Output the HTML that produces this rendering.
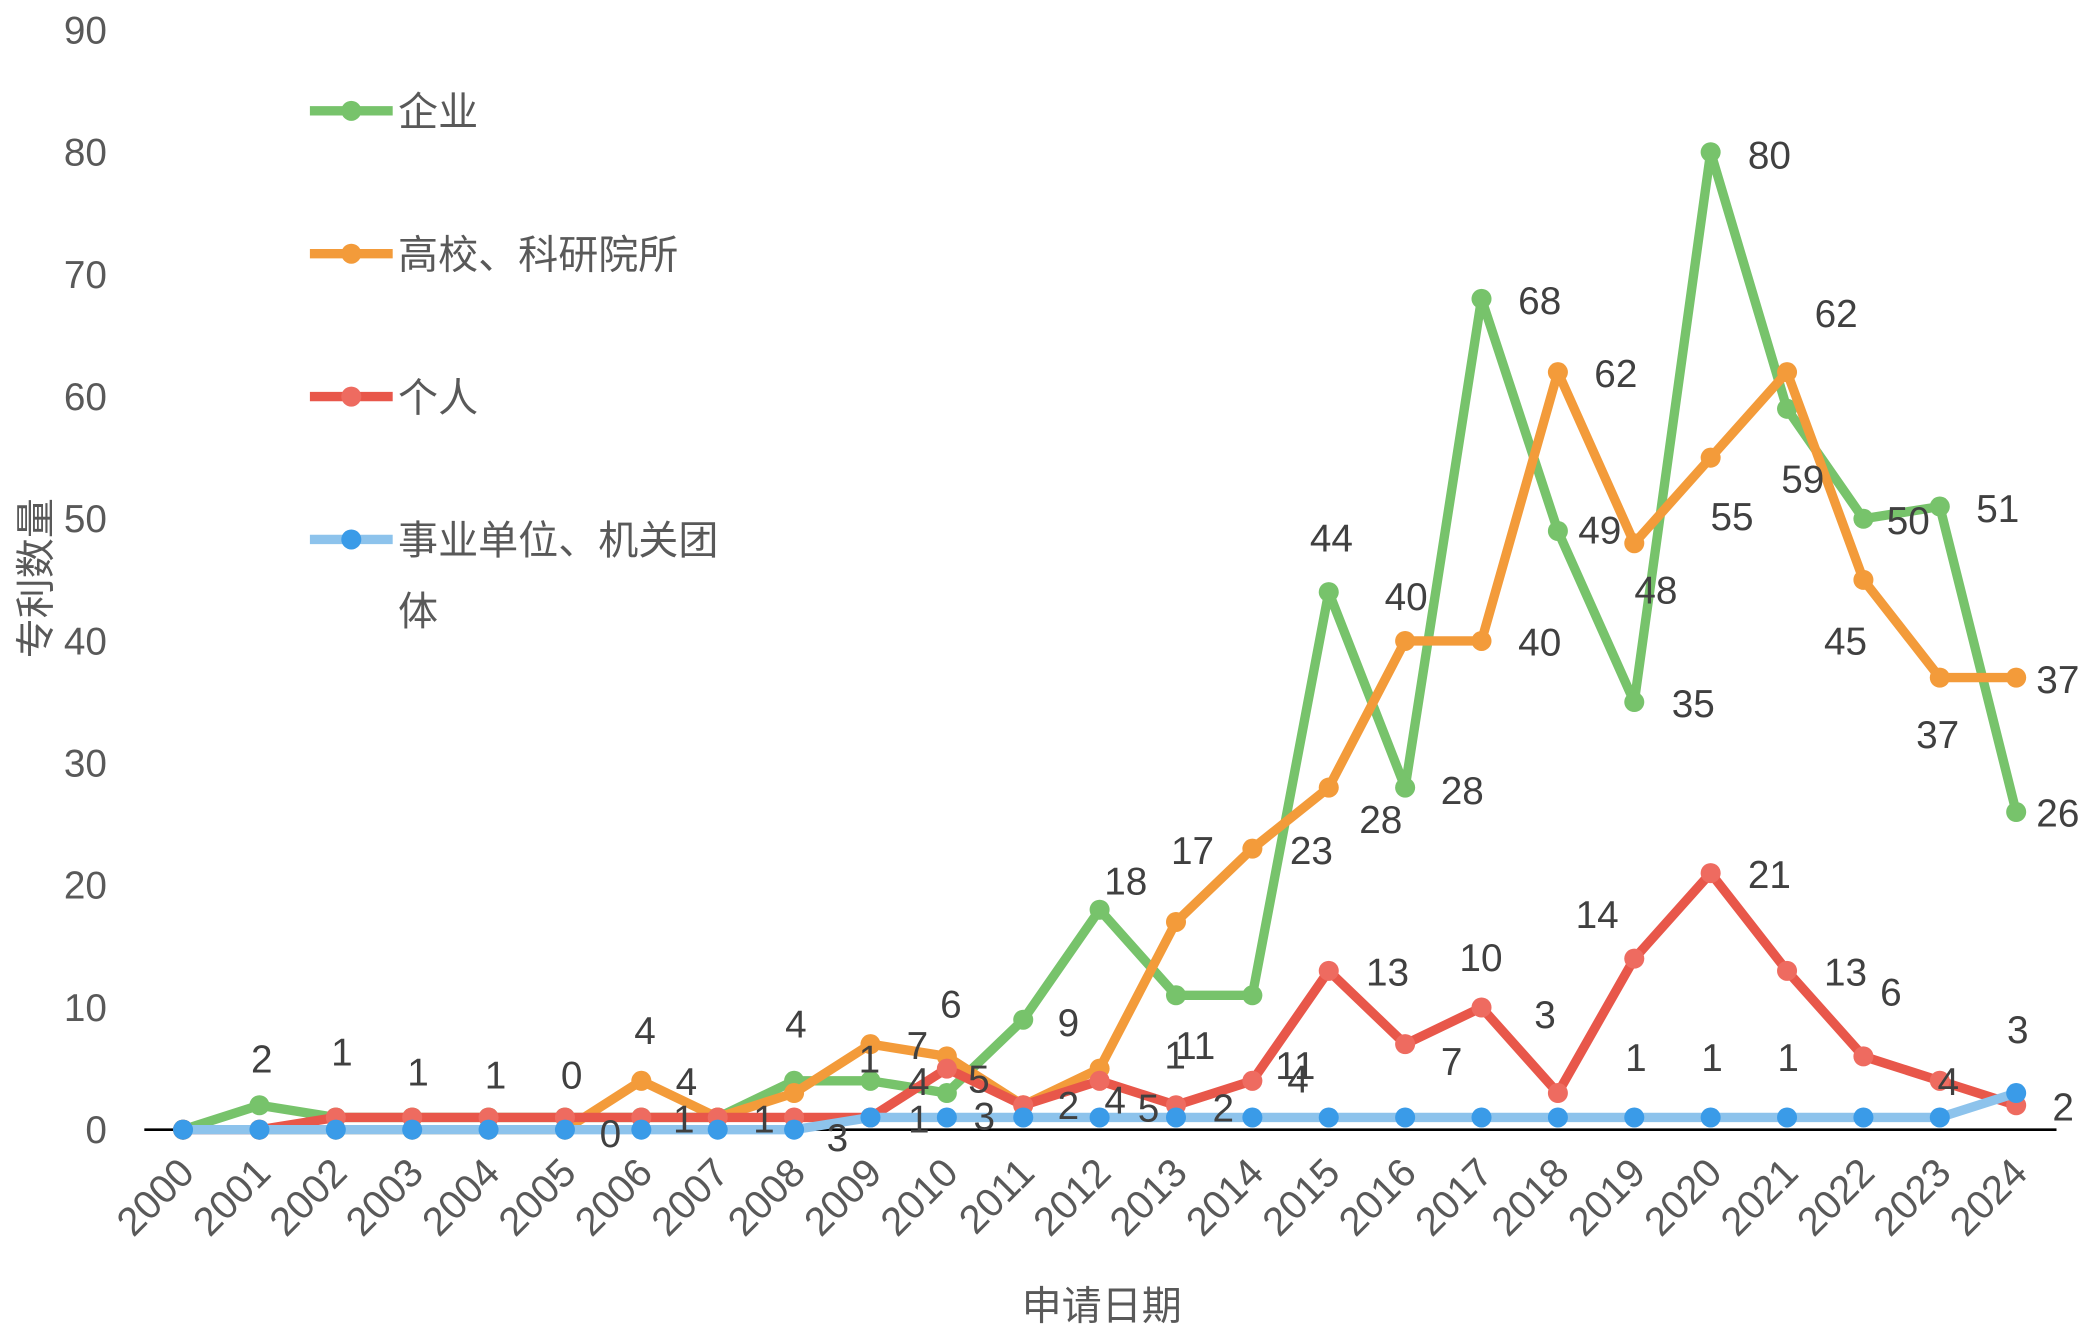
<!DOCTYPE html>
<html><head><meta charset="utf-8"><style>
html,body{margin:0;padding:0;background:#fff;}
svg{display:block;}
text{font-family:"Liberation Sans","Noto Sans CJK SC",sans-serif;fill:#595959;}
</style></head><body>
<svg id="c" width="2094" height="1342" viewBox="0 0 1568 1005" xmlns="http://www.w3.org/2000/svg"></svg>
<script>
const s=document.getElementById('c');
const X=i=>137+i*57.2, Y=v=>846-v*9.15;
let h='';
for(let v=0;v<=90;v+=10){h+=`<text x="80" y="${Y(v)+10}" font-size="29" text-anchor="end">${v}</text>`;}
h+=`<line x1="108" y1="846" x2="1540" y2="846" stroke="#000" stroke-width="2"/>`;
for(let i=0;i<25;i++){h+=`<text transform="translate(${X(i)+10},880) rotate(-45)" font-size="30" text-anchor="end">${2000+i}</text>`;}
h+=`<text x="825" y="988" font-size="30" text-anchor="middle">申请日期</text>`;
h+=`<text transform="translate(37,433) rotate(-90)" font-size="30" text-anchor="middle">专利数量</text>`;
const D=[
 ['#8DC3EC','#3A9BE8',[0,0,0,0,0,0,0,0,0,1,1,1,1,1,1,1,1,1,1,1,1,1,1,1,3]],
 ['#E8574A','#EE6B60',[0,0,1,1,1,1,1,1,1,1,5,2,4,2,4,13,7,10,3,14,21,13,6,4,2]],
 ['#F39B3A','#F39B3A',[0,0,0,0,0,0,4,1,3,7,6,2,5,17,23,28,40,40,62,48,55,62,45,37,37]],
 ['#77C36B','#77C36B',[0,2,1,1,1,1,1,1,4,4,3,9,18,11,11,44,28,68,49,35,80,59,50,51,26]]];
const order=[3,2,1,0];
let lines='';
for(const k of order){const [lc,mc,d]=D[k];
 lines+=`<polyline fill="none" stroke="${lc}" stroke-width="7" stroke-linejoin="round" points="${d.map((v,i)=>X(i)+','+Y(v)).join(' ')}"/>`;
 d.forEach((v,i)=>{lines+=`<circle cx="${X(i)}" cy="${Y(v)}" r="7.5" fill="${mc}"/>`;});
}
h+=lines;
const L=[["2",196,793],["1",256,788],["1",313,803],["1",371,805],["0",428,805],["4",483,772],["4",514,810],["0",457,849],["1",512,838],["4",596,767],["1",572,838],["3",627,852],["1",651,793],["7",687,783],["4",688,810],["6",712,752],["5",733,808],["1",688,838],["3",737,836],["9",800,766],["18",843,660],["2",800,828],["4",835,824],["5",860,830],["1",880,790],["11",895,783],["17",893,637],["2",916,830],["11",970,798],["4",972,808],["23",982,637],["44",997,403],["28",1034,614],["13",1039,728],["40",1053,447],["7",1087,795],["28",1095,592],["10",1109,717],["68",1153,225],["40",1153,481],["3",1157,760],["14",1196,685],["49",1198,397],["62",1210,280],["1",1225,792],["48",1240,442],["35",1268,527],["80",1325,116],["1",1282,792],["21",1325,655],["55",1297,387],["62",1375,235],["59",1350,359],["1",1339,792],["13",1382,728],["50",1429,390],["45",1382,480],["51",1496,381],["6",1416,743],["37",1451,550],["4",1459,810],["3",1511,771],["37",1541,509],["26",1541,609],["2",1545,829]];
L.forEach(([t,x,y])=>{h+=`<text x="${x}" y="${y+10}" font-size="29" text-anchor="middle" style="fill:#404040">${t}</text>`;});
const LG=[['#77C36B','#77C36B','企业',83],['#F39B3A','#F39B3A','高校、科研院所',190],['#E8574A','#EE6B60','个人',297],['#8DC3EC','#3A9BE8','事业单位、机关团',404]];
LG.forEach(([lc,mc,t,y])=>{h+=`<line x1="232" y1="${y}" x2="294" y2="${y}" stroke="${lc}" stroke-width="7"/><circle cx="263" cy="${y}" r="7.5" fill="${mc}"/><text x="298" y="${y+11}" font-size="30">${t}</text>`;});
h+=`<text x="298" y="468" font-size="30">体</text>`;
s.innerHTML=h;
</script>
</body></html>
